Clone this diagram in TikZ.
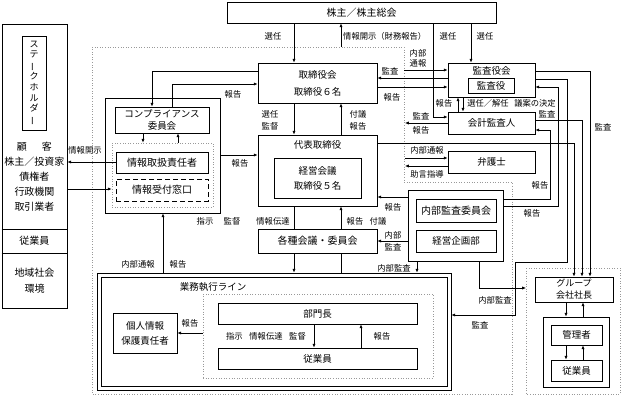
\documentclass[tikz,border=0pt]{standalone}
\usepackage{fontspec}
\usepackage{graphicx}
\setmainfont{Noto Sans CJK JP}
\usetikzlibrary{arrows.meta}
\tikzset{
 box/.style={draw, line width=0.85pt, inner sep=0pt, align=center, font=\fontsize{9.5}{12}\selectfont},
 txt/.style={inner sep=0pt, align=center, font=\fontsize{9.5}{12}\selectfont},
 lab/.style={inner sep=0pt, align=center, font=\fontsize{8.3}{10}\selectfont},
 arr/.style={line width=0.65pt, -{Latex[length=3.8pt,width=3.2pt]}},
 ln/.style={line width=0.65pt},
 dotbox/.style={draw=gray!80, dotted, line width=0.6pt},
}
\begin{document}
\begin{tikzpicture}[x=1pt,y=-1pt]
\useasboundingbox (0,0) rectangle (622,396);
% regions
\draw[dotbox] (92,47) -- (404,47) -- (404,182) -- (512,182) -- (512,394) -- (92,394) -- cycle;
\draw[dotbox] (526,268) rectangle (620,394);
% shareholders
\node[box, minimum width=269pt, minimum height=21pt, font=\fontsize{10}{12}\selectfont] (sh) at (361.5,12.5) {株主／株主総会};
% stakeholders
\node[box, minimum width=65pt, minimum height=284pt] (stk) at (34.5,166) {};
\node[box, minimum width=24pt, minimum height=94pt, font=\fontsize{9}{10.8}\selectfont] (stkt) at (34,83) {ス\\テ\\\rotatebox[origin=c]{90}{ー}\\ク\\ホ\\ル\\ダ\\\rotatebox[origin=c]{90}{ー}};
\node[txt, font=\fontsize{10}{15}\selectfont] (stkl) at (34.5,177) {顧\hspace{1.5em}客\\株主／投資家\\債権者\\行政機関\\取引業者};
\draw[line width=0.85pt] (stk.west |- 0,229) -- (stk.east |- 0,229);
\draw[line width=0.85pt] (stk.west |- 0,253) -- (stk.east |- 0,253);
\node[txt, font=\fontsize{10}{15}\selectfont] (emp) at (34.5,241) {従業員};
\node[txt, font=\fontsize{10}{16}\selectfont] (comm) at (34.5,281) {地域社会\\環境};
% compliance
\node[box, minimum width=115pt, minimum height=115pt] (compo) at (162.5,155.5) {};
\node[box, minimum width=94pt, minimum height=26pt, font=\fontsize{9.5}{12}\selectfont] (compc) at (162,120) {コンプライアンス\\委員会};
\node[dotbox, minimum width=101pt, minimum height=64pt, inner sep=0pt] (compd) at (162.5,175) {};
\node[box, minimum width=92pt, minimum height=21pt, font=\fontsize{10}{12}\selectfont] (joho) at (162,162.5) {情報取扱責任者};
\node[box, dash pattern=on 5pt off 3pt, minimum width=92pt, minimum height=22pt, font=\fontsize{10}{12}\selectfont] (uke) at (162,190) {情報受付窓口};
% board
\node[box, minimum width=119pt, minimum height=40pt, font=\fontsize{9.5}{17}\selectfont] (board) at (317.5,83) {取締役会\\取締役６名};
% representative
\node[box, minimum width=119pt, minimum height=71pt] (rep) at (317.5,170.5) {};
\node[txt] (rept) at (317.5,145) {代表取締役};
\node[box, minimum width=87pt, minimum height=40pt, font=\fontsize{9.5}{15}\selectfont] (keiei) at (317.5,178) {経営会議\\取締役５名};
\node[box, minimum width=119pt, minimum height=24pt, font=\fontsize{10}{12}\selectfont] (kaigi) at (317.5,241) {各種会議・委員会};
% audit
\node[box, minimum width=87pt, minimum height=34pt] (kansa) at (491.5,80) {};
\node[txt] (kansat) at (491.5,71) {監査役会};
\node[box, minimum width=46pt, minimum height=15pt] (kansay) at (491,85.5) {監査役};
\node[box, minimum width=87pt, minimum height=22pt] (kaikei) at (491.5,123) {会計監査人};
\node[box, minimum width=87pt, minimum height=22pt] (bengo) at (491.5,162) {弁護士};
\node[box, minimum width=95pt, minimum height=71pt] (naibo) at (455.5,225.5) {};
\node[box, minimum width=80pt, minimum height=23pt, font=\fontsize{10}{12}\selectfont] (naibu) at (456,210.5) {内部監査委員会};
\node[box, minimum width=80pt, minimum height=22pt] (kikaku) at (456,241) {経営企画部};
% business line
\node[box, minimum width=354pt, minimum height=117pt] (gyo) at (274,331.5) {};
\node[box, minimum width=346pt, minimum height=109pt] (gyoi) at (274,331.5) {};
\node[txt] (gyot) at (213,287) {業務執行ライン};
\node[dotbox, minimum width=230pt, minimum height=84pt, inner sep=0pt] (gyod) at (318,336) {};
\node[box, minimum width=199pt, minimum height=21pt] (bumon) at (317.5,313.5) {部門長};
\node[box, minimum width=199pt, minimum height=21pt] (jug) at (317.5,358.5) {従業員};
\node[box, minimum width=64pt, minimum height=40pt, font=\fontsize{9.5}{15}\selectfont] (kojin) at (145,333) {個人情報\\保護責任者};
% group
\node[box, minimum width=78pt, minimum height=25pt, font=\fontsize{9}{12}\selectfont] (gp) at (574,289.5) {グループ\\会社社長};
\node[box, minimum width=66pt, minimum height=70pt] (gpi) at (576,352) {};
\node[box, minimum width=51pt, minimum height=20pt] (kanri) at (576.5,335) {管理者};
\node[box, minimum width=51pt, minimum height=21pt] (gjug) at (576.5,370.5) {従業員};
% free ends
\coordinate (disc) at (341,47);
\coordinate (tsuho) at (404,70);
\coordinate (kaikeiout) at (405,123);
\coordinate (bin) at (405,158);
\coordinate (bout) at (405,166);
\coordinate (gin) at (526,288);
% connectors top
\draw[arr] (sh.south -| 294,0) -- (board.north -| 294,0);
\node[lab] at (273,36) {選任};
\draw[arr] (disc) -- (sh.south -| disc);
\node[lab, anchor=west] at (343,36) {情報開示（財務報告）};
\draw[arr] (sh.south -| 433,0) -- (433,117) -- (kaikei.west |- 0,117);
\node[lab] at (448,36) {選任};
\draw[arr] (sh.south -| 471,0) -- (kansa.north -| 471,0);
\node[lab] at (485,36) {選任};
% board - compliance
\draw[arr] (board.west |- 0,71) -- (152,71) -- (compc.north -| 152,0);
\draw[arr] (compc.north -| 172,0) -- (172,84) -- (board.west |- 0,84);
\node[lab] at (233,94) {報告};
% board - rep
\draw[arr] (board.south -| 294,0) -- (rep.north -| 294,0);
\node[lab, font=\fontsize{8.3}{12}\selectfont] at (270,120) {選任\\監督};
\draw[arr] (rep.north -| 341,0) -- (board.south -| 341,0);
\node[lab, font=\fontsize{8.3}{12}\selectfont] at (358,120) {付議\\報告};
% board - audit
\draw[arr] (tsuho) -- (kansa.west |- tsuho);
\node[lab] at (418,58) {内部\\通報};
\draw[arr] (kansa.west |- 0,78) -- (board.east |- 0,78);
\node[lab] at (390,71) {監査};
\draw[arr] (board.east |- 0,87) -- (kansa.west |- 0,87);
\node[lab] at (392,97) {報告};
% audit - accountant
\draw[arr] (kaikei.north -| 458,0) -- (kansa.south -| 458,0);
\draw[arr] (kansa.south -| 463,0) -- (kaikei.north -| 463,0);
\node[lab] at (444,103) {報告};
\draw[arr] (kaikei.west |- kaikeiout) -- (kaikeiout);
\node[lab] at (421,116) {監査};
\node[lab] at (421,130) {報告};
\node[lab] at (488,103) {選任／解任};
\node[lab] at (535,103) {議案の決定};
% right side long lines
\draw[arr] (kansa.east |- 0,71) -- (590,71) -- (gp.north -| 590,0);
\node[lab] at (603,127) {監査};
\draw[arr] (kaikei.east |- 0,120) -- (582,120) -- (gp.north -| 582,0);
\node[lab] at (547,114) {監査};
\draw[arr] (rep.east |- 0,143) -- (574,143) -- (gp.north -| 574,0);
\draw[arr] (kansa.east |- 0,79) -- (567,79) -- (567,262) -- (515,262) -- (515,315) -- (gyo.east |- 0,315);
\node[lab] at (480,325) {監査};
\draw[arr] (naibo.east |- 0,206) -- (558,206) -- (558,87) -- (kansa.east |- 0,87);
\node[lab] at (532,213) {報告};
\draw[arr] (naibo.east |- 0,199) -- (550,199) -- (550,130) -- (kaikei.east |- 0,130);
\node[lab] at (540,185) {報告};
% lawyer
\draw[arr] (bin) -- (bengo.west |- bin);
\node[lab] at (427,150) {内部通報};
\draw[arr] (bengo.west |- bout) -- (bout);
\node[lab] at (427,174) {助言指導};
% compliance links
\draw[arr] (compo.east |- 0,155) -- (rep.west |- 0,155);
\node[lab] at (240,163) {報告};
\draw[arr] (joho.west |- 0,162) -- (stk.east |- 0,162);
\node[lab] at (85,150) {情報開示};
\draw[arr] (stk.east |- 0,189) -- (compd.west |- 0,189);
\draw[arr] (compc.south -| 143,0) -- (compd.north -| 143,0);
\draw[arr] (compd.north -| 178,0) -- (compc.south -| 178,0);
\draw[arr] (gyo.north -| 163,0) -- (compo.south -| 163,0);
\node[lab] at (138,264) {内部通報};
\node[lab] at (178,264) {報告};
% rep - meetings - line
\draw[ln] (rep.south -| 294,0) -- (kaigi.north -| 294,0);
\draw[arr] (kaigi.south -| 294,0) -- (gyo.north -| 294,0);
\draw[ln] (gyo.north -| 341,0) -- (kaigi.south -| 341,0);
\draw[arr] (kaigi.north -| 341,0) -- (rep.south -| 341,0);
\node[lab] at (205,221) {指示};
\node[lab] at (232,221) {監督};
\node[lab] at (273,221) {情報伝達};
\node[lab] at (355,221) {報告};
\node[lab] at (378,221) {付議};
% internal audit links
\draw[arr] (naibo.west |- 0,197) -- (rep.east |- 0,197);
\node[lab] at (393,207) {報告};
\draw[arr] (naibo.west |- 0,241) -- (kaigi.east |- 0,241);
\node[lab, font=\fontsize{8.3}{12}\selectfont] at (393,241) {内部\\監査};
\draw[arr] (naibo.south -| 417,0) -- (gyo.north -| 417,0);
\node[lab] at (394,268) {内部監査};
\draw[arr] (naibo.south -| 479,0) -- (479,288) -- (gin);
\node[lab] at (495,300) {内部監査};
% business line inner
\draw[arr] (gyod.west |- 0,333) -- (kojin.east |- 0,333);
\node[lab] at (190,323) {報告};
\draw[arr] (bumon.south -| 314,0) -- (jug.north -| 314,0);
\draw[arr] (jug.north -| 361,0) -- (bumon.south -| 361,0);
\node[lab] at (266,336) {指示\hspace{0.8em}情報伝達\hspace{0.8em}監督};
\node[lab] at (382,336) {報告};
% group
\draw[arr] (gp.south -| 566,0) -- (gpi.north -| 566,0);
\draw[arr] (gpi.north -| 583,0) -- (gp.south -| 583,0);
\draw[arr] (kanri.south -| 566,0) -- (gjug.north -| 566,0);
\draw[arr] (gjug.north -| 583,0) -- (kanri.south -| 583,0);
\end{tikzpicture}
\end{document}
